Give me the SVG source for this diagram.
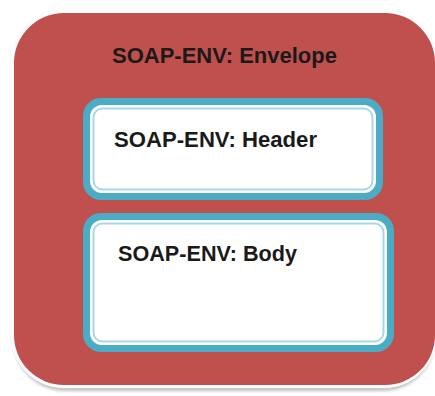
<svg xmlns="http://www.w3.org/2000/svg" width="435" height="396" viewBox="0 0 435 396">
  <defs>
    <filter id="soft" x="-10%" y="-10%" width="120%" height="120%">
      <feGaussianBlur stdDeviation="1.5"/>
    </filter>
  </defs>
  <style>
    .label { font-family: "Liberation Sans", Arial, sans-serif; font-weight: bold; font-size: 22px; fill: #1a1a1a; }
    .frame { fill: #4BACC6; }
    .gap { fill: #ffffff; }
    .inner { fill: #ffffff; stroke: #A9D8E4; stroke-width: 2; }
  </style>
  <rect width="435" height="396" fill="#ffffff"/>

  <!-- envelope -->
  <g id="envelope">
    <rect x="13" y="15" width="422" height="376" rx="52" fill="#8f8f8f" opacity="0.55" filter="url(#soft)"/>
    <rect x="11" y="10" width="426" height="377" rx="54" fill="#eeeeee" filter="url(#soft)"/>
    <rect x="11" y="10" width="426" height="378" rx="53" fill="#ffffff"/>
    <rect x="14" y="13" width="421" height="372" rx="50" fill="#C0504D"/>
    <text class="label" x="112" y="63" textLength="225" lengthAdjust="spacingAndGlyphs">SOAP-ENV: Envelope</text>
  </g>

  <!-- header block -->
  <g id="header">
    <rect class="frame" x="83" y="98" width="300" height="102" rx="18"/>
    <rect class="gap" x="90" y="105" width="286" height="88" rx="12"/>
    <rect class="inner" x="93.5" y="108.5" width="279" height="81" rx="9"/>
    <text class="label" x="114" y="147" textLength="203" lengthAdjust="spacingAndGlyphs">SOAP-ENV: Header</text>
  </g>

  <!-- body block -->
  <g id="body">
    <rect class="frame" x="83" y="213" width="311" height="139" rx="18"/>
    <rect class="gap" x="90" y="220" width="297" height="125" rx="12"/>
    <rect class="inner" x="93.5" y="223.5" width="290" height="118" rx="9"/>
    <text class="label" x="118" y="261" textLength="179" lengthAdjust="spacingAndGlyphs">SOAP-ENV: Body</text>
  </g>

  <!-- no connectors in this diagram -->
  <g id="connectors"/>
</svg>
